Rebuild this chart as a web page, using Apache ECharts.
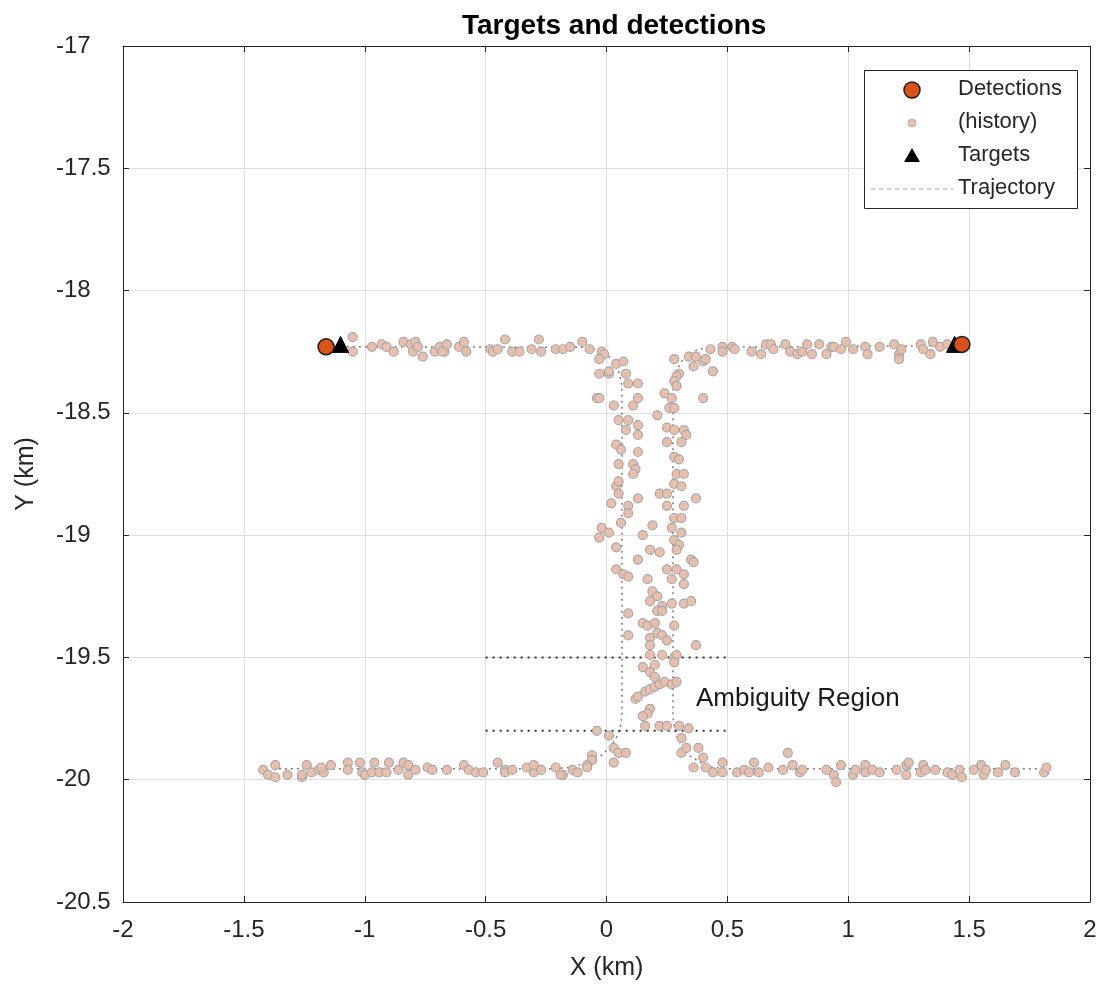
<!DOCTYPE html>
<html>
<head>
<meta charset="UTF-8">
<title>Targets and detections</title>
<style>
  html, body { margin: 0; padding: 0; background: #fff; }
  #chart { width: 1100px; height: 986px; }
</style>
</head>
<body>
<div id="chart"></div>
<script src="https://cdn.jsdelivr.net/npm/echarts@6/dist/echarts.min.js"></script>
<script type="text/javascript">
// axis ticks
var xTicks = [-2, -1.5, -1, -0.5, 0, 0.5, 1, 1.5, 2];
var yTicks = [-20.5, -20, -19.5, -19, -18.5, -18, -17.5, -17];

// current detections and targets (km)
var detections = [[-1.16, -18.23], [1.47, -18.22]];
var targets = [[-1.10, -18.22], [1.44, -18.22]];

// detection history (km)
var historyTop = [
  [-1.05, -18.19], [-1.05, -18.25], [-0.97, -18.23], [-0.93, -18.22], [-0.91, -18.23], [-0.88, -18.25],
  [-0.84, -18.21], [-0.81, -18.22], [-0.79, -18.21], [-0.80, -18.25], [-0.76, -18.27], [-0.78, -18.23],
  [-0.71, -18.25], [-0.69, -18.23], [-0.67, -18.25], [-0.66, -18.22], [-0.68, -18.25], [-0.61, -18.23],
  [-0.59, -18.21], [-0.58, -18.25], [-0.48, -18.24], [-0.47, -18.25], [-0.45, -18.24], [-0.42, -18.20],
  [-0.39, -18.25], [-0.36, -18.25], [-0.31, -18.24], [-0.28, -18.20], [-0.27, -18.25], [-0.21, -18.24],
  [-0.18, -18.24], [-0.15, -18.23], [-0.10, -18.21], [-0.07, -18.24],
  [0.48, -18.23], [0.48, -18.25], [0.52, -18.23], [0.53, -18.24], [0.60, -18.25], [0.64, -18.26],
  [0.66, -18.22], [0.68, -18.22], [0.69, -18.24], [0.74, -18.22], [0.76, -18.25], [0.79, -18.26],
  [0.81, -18.25], [0.83, -18.22], [0.85, -18.26], [0.88, -18.22], [0.91, -18.26], [0.93, -18.23],
  [0.94, -18.23], [0.97, -18.24], [0.99, -18.21], [1.02, -18.24], [1.07, -18.23], [1.08, -18.26],
  [1.13, -18.23], [1.19, -18.22], [1.21, -18.26], [1.21, -18.28], [1.22, -18.24], [1.30, -18.22],
  [1.31, -18.24], [1.34, -18.26], [1.35, -18.21], [1.38, -18.23], [1.41, -18.22]
];
var historyLeftColumn = [
  [-0.02, -18.25], [-0.01, -18.26], [-0.03, -18.28], [0.04, -18.30], [0.07, -18.29], [-0.03, -18.34],
  [0.01, -18.34], [0.08, -18.34], [0.01, -18.33], [0.09, -18.38], [0.13, -18.38], [-0.04, -18.44],
  [-0.03, -18.44], [0.03, -18.47], [0.11, -18.47], [0.13, -18.44], [0.05, -18.53], [0.09, -18.53],
  [0.13, -18.55], [0.13, -18.59], [0.08, -18.57], [0.04, -18.63], [0.06, -18.65], [0.13, -18.66],
  [0.05, -18.71], [0.11, -18.71], [0.12, -18.73], [0.11, -18.75], [0.04, -18.80], [0.05, -18.78],
  [0.05, -18.83], [0.13, -18.85], [0.02, -18.87], [0.09, -18.88], [0.09, -18.91], [0.06, -18.95],
  [-0.02, -18.97], [0.01, -18.99], [-0.03, -19.01]
];
var historyRightColumn = [
  [0.28, -18.28], [0.34, -18.27], [0.37, -18.27], [0.36, -18.31], [0.40, -18.29], [0.41, -18.28],
  [0.43, -18.24], [0.44, -18.33], [0.30, -18.34], [0.29, -18.35], [0.28, -18.37], [0.29, -18.39],
  [0.24, -18.42], [0.27, -18.44], [0.40, -18.44], [0.26, -18.48], [0.28, -18.48], [0.21, -18.51],
  [0.25, -18.56], [0.28, -18.57], [0.32, -18.57], [0.33, -18.59], [0.25, -18.62], [0.31, -18.62],
  [0.28, -18.68], [0.30, -18.69], [0.29, -18.75], [0.32, -18.75], [0.28, -18.79], [0.31, -18.80],
  [0.22, -18.83], [0.25, -18.83], [0.37, -18.85], [0.25, -18.88], [0.32, -18.88], [0.28, -18.93],
  [0.31, -18.93], [0.19, -18.96], [0.27, -18.97], [0.31, -18.99], [0.15, -19.00]
];
var historyCenter = [
  [0.28, -19.02], [0.30, -19.04], [0.29, -19.06], [0.04, -19.05], [0.18, -19.06], [0.22, -19.07],
  [0.13, -19.10], [0.35, -19.10], [0.36, -19.11], [0.04, -19.14], [0.07, -19.16], [0.09, -19.17],
  [0.25, -19.14], [0.29, -19.14], [0.32, -19.16], [0.17, -19.18], [0.27, -19.18], [0.32, -19.20],
  [0.19, -19.23], [0.21, -19.25], [0.18, -19.27], [0.23, -19.29], [0.21, -19.31], [0.23, -19.31],
  [0.27, -19.28], [0.32, -19.28], [0.35, -19.27], [0.09, -19.32], [0.15, -19.36], [0.17, -19.37],
  [0.20, -19.36], [0.28, -19.37], [0.09, -19.41], [0.21, -19.40], [0.18, -19.42], [0.23, -19.41],
  [0.25, -19.43], [0.18, -19.45], [0.37, -19.45], [0.18, -19.49], [0.23, -19.49], [0.28, -19.50],
  [0.29, -19.49], [0.28, -19.52], [0.15, -19.54], [0.18, -19.56], [0.20, -19.58], [0.20, -19.53],
  [0.12, -19.67], [0.13, -19.66], [0.16, -19.64], [0.18, -19.63], [0.20, -19.62], [0.22, -19.61],
  [0.24, -19.60], [0.27, -19.61], [0.29, -19.60], [0.18, -19.71], [0.17, -19.73], [0.15, -19.74],
  [0.16, -19.78], [0.22, -19.78], [0.25, -19.78], [0.30, -19.78], [0.34, -19.79]
];
var historyBottom = [
  [-0.04, -19.80], [0.01, -19.82], [0.31, -19.83], [0.03, -19.87], [0.05, -19.89], [0.08, -19.89],
  [0.03, -19.93], [-0.06, -19.90], [-0.06, -19.92], [-0.08, -19.94], [-0.08, -19.95], [-0.14, -19.96],
  [-0.12, -19.97], [-0.18, -19.98], [0.31, -19.89], [0.33, -19.87], [0.38, -19.87], [0.40, -19.91],
  [0.36, -19.95], [0.41, -19.95],
  [-1.42, -19.96], [-1.40, -19.98], [-1.37, -19.94], [-1.37, -19.99], [-1.32, -19.98], [-1.26, -19.99],
  [-1.26, -19.98], [-1.24, -19.94], [-1.22, -19.97], [-1.19, -19.96], [-1.17, -19.97], [-1.18, -19.95],
  [-1.14, -19.94], [-1.07, -19.93], [-1.07, -19.96], [-1.02, -19.93], [-1.01, -19.97], [-1.00, -19.98],
  [-0.97, -19.97], [-0.96, -19.93], [-0.94, -19.97], [-0.90, -19.93], [-0.91, -19.97], [-0.86, -19.96],
  [-0.84, -19.93], [-0.82, -19.94], [-0.82, -19.98], [-0.79, -19.96], [-0.74, -19.95], [-0.72, -19.96],
  [-0.66, -19.96], [-0.59, -19.94], [-0.57, -19.96], [-0.54, -19.97], [-0.51, -19.97], [-0.45, -19.93],
  [-0.42, -19.96], [-0.42, -19.97], [-0.39, -19.96], [-0.33, -19.95], [-0.30, -19.97], [-0.30, -19.94],
  [-0.27, -19.96], [-0.21, -19.95], [-0.19, -19.98],
  [0.44, -19.97], [0.48, -19.97], [0.48, -19.93], [0.54, -19.97], [0.57, -19.96], [0.59, -19.97],
  [0.61, -19.93], [0.63, -19.97], [0.67, -19.95], [0.73, -19.96], [0.75, -19.89], [0.77, -19.94],
  [0.80, -19.97], [0.81, -19.96], [0.91, -19.96], [0.94, -19.98], [0.95, -20.01], [0.97, -19.94],
  [1.02, -19.98], [1.03, -19.96], [1.07, -19.94], [1.07, -19.97], [1.10, -19.96], [1.13, -19.97],
  [1.20, -19.96], [1.24, -19.94], [1.24, -19.98], [1.25, -19.93], [1.30, -19.97], [1.31, -19.94],
  [1.32, -19.96], [1.36, -19.96], [1.41, -19.97], [1.43, -19.98], [1.46, -19.96], [1.47, -19.99],
  [1.52, -19.96], [1.55, -19.94], [1.56, -19.98], [1.57, -19.96], [1.62, -19.97], [1.65, -19.94],
  [1.69, -19.97], [1.81, -19.97], [1.82, -19.95]
];

// true trajectories (km)
var trajectory1 = [
  [-1.38, -19.955], [-0.22, -19.955], [-0.15, -19.95], [-0.08, -19.93], [-0.02, -19.90], [0.02, -19.86],
  [0.045, -19.82], [0.058, -19.78], [0.064, -19.74], [0.064, -18.42], [0.062, -18.38], [0.05, -18.33],
  [0.03, -18.29], [0.0, -18.26], [-0.04, -18.24], [-0.10, -18.232], [-1.10, -18.23]
];
var trajectory2 = [
  [1.78, -19.955], [0.50, -19.955], [0.44, -19.95], [0.39, -19.93], [0.34, -19.90], [0.31, -19.86],
  [0.29, -19.82], [0.28, -19.78], [0.275, -19.74], [0.275, -18.42], [0.278, -18.38], [0.29, -18.33],
  [0.31, -18.29], [0.34, -18.26], [0.38, -18.24], [0.44, -18.232], [1.44, -18.225]
];

// ambiguity region bounds
var ambigTop = [[-0.5, -19.5], [0.5, -19.5]];
var ambigBottom = [[-0.5, -19.8], [0.5, -19.8]];
var ambigLabel = [[0.37, -19.67]];

var historyAll = historyTop.concat(historyLeftColumn, historyRightColumn, historyCenter, historyBottom);

var font = 'Liberation Sans, Arial, Helvetica, sans-serif';
var ink = '#262626';
var orange = '#d95319';

var my_echarts = echarts.init(document.getElementById('chart'));

// legend box (MATLAB style), drawn as graphic
var legendTexts = ['Detections', '(history)', 'Targets', 'Trajectory'];
var legendRowsY = [90, 123, 156, 189];
var legendGraphic = [{
  type: 'rect', left: 864, top: 70, z: 10,
  shape: { width: 213, height: 138 },
  style: { fill: '#fff', stroke: ink, lineWidth: 1 }
}, {
  type: 'circle', z: 11, shape: { cx: 912, cy: legendRowsY[0], r: 8 },
  style: { fill: orange, stroke: '#1a1a1a', lineWidth: 1.5 }
}, {
  type: 'circle', z: 11, shape: { cx: 912, cy: legendRowsY[1], r: 4 },
  style: { fill: '#e8bfad', stroke: '#b0b0b0', lineWidth: 1 }
}, {
  type: 'polygon', z: 11,
  shape: { points: [[912, legendRowsY[2] - 8], [920, legendRowsY[2] + 6], [904, legendRowsY[2] + 6]] },
  style: { fill: '#000' }
}, {
  type: 'line', z: 11,
  shape: { x1: 871, y1: legendRowsY[3], x2: 953, y2: legendRowsY[3] },
  style: { stroke: '#9a9a9a', lineWidth: 1.2, lineDash: [4, 4] }
}];
legendTexts.forEach(function (t, i) {
  legendGraphic.push({
    type: 'text', z: 11, left: 958, top: legendRowsY[i] - 12,
    style: { text: t, fill: ink, font: '22px ' + font }
  });
});

var option = {
  backgroundColor: '#fff',
  animation: false,
  title: {
    text: 'Targets and detections',
    left: 457,
    top: 7,
    textStyle: { fontFamily: font, fontSize: 28, fontWeight: 'bold', color: '#000' }
  },
  grid: { left: 123, right: 10, top: 46, bottom: 83, show: false },
  graphic: legendGraphic,
  xAxis: [{
    type: 'value',
    min: -2, max: 2, interval: 0.5,
    name: 'X (km)',
    nameLocation: 'middle',
    nameGap: 54,
    nameTextStyle: { fontFamily: font, fontSize: 25, color: ink },
    axisLine: { show: true, onZero: false, lineStyle: { color: ink, width: 1 } },
    axisTick: { show: true, inside: true, length: 6, lineStyle: { color: ink } },
    axisLabel: {
      fontFamily: font, fontSize: 24, color: ink, margin: 16,
      formatter: function (v) { return xTicks.indexOf(v) >= 0 ? String(v) : ''; }
    },
    splitLine: { show: true, lineStyle: { color: '#dfdfdf', width: 1 } }
  }, {
    type: 'value',
    position: 'top',
    min: -2, max: 2, interval: 0.5,
    axisLine: { show: true, onZero: false, lineStyle: { color: ink, width: 1 } },
    axisTick: { show: true, inside: true, length: 6, lineStyle: { color: ink } },
    axisLabel: { show: false },
    splitLine: { show: false }
  }],
  yAxis: [{
    type: 'value',
    min: -20.5, max: -17, interval: 0.5,
    name: 'Y (km)',
    nameLocation: 'middle',
    nameGap: 84,
    nameRotate: 90,
    nameTextStyle: { fontFamily: font, fontSize: 25, color: ink },
    axisLine: { show: true, onZero: false, lineStyle: { color: ink, width: 1 } },
    axisTick: { show: true, inside: true, length: 6, lineStyle: { color: ink } },
    axisLabel: {
      fontFamily: font, fontSize: 24, color: ink, margin: 67, align: 'left',
      formatter: function (v) { return yTicks.indexOf(v) >= 0 ? String(v) : ''; }
    },
    splitLine: { show: true, lineStyle: { color: '#dfdfdf', width: 1 } }
  }, {
    type: 'value',
    position: 'right',
    min: -20.5, max: -17, interval: 0.5,
    axisLine: { show: true, onZero: false, lineStyle: { color: ink, width: 1 } },
    axisTick: { show: true, inside: true, length: 6, lineStyle: { color: ink } },
    axisLabel: { show: false },
    splitLine: { show: false }
  }],
  series: [{
    name: 'Trajectory',
    type: 'line',
    data: trajectory1,
    symbol: 'none',
    silent: true,
    z: 1,
    lineStyle: { color: '#7a7a7a', width: 1.5, type: [2, 4] }
  }, {
    name: 'Trajectory',
    type: 'line',
    data: trajectory2,
    symbol: 'none',
    silent: true,
    z: 1,
    lineStyle: { color: '#7a7a7a', width: 1.5, type: [2, 4] }
  }, {
    name: 'ambiguity',
    type: 'line',
    data: ambigTop,
    symbol: 'none',
    silent: true,
    z: 1,
    lineStyle: { color: '#333', width: 2, type: [2, 5] }
  }, {
    name: 'ambiguity',
    type: 'line',
    data: ambigBottom,
    symbol: 'none',
    silent: true,
    z: 1,
    lineStyle: { color: '#333', width: 2, type: [2, 5] }
  }, {
    name: 'ambiguityLabel',
    type: 'scatter',
    data: ambigLabel,
    symbolSize: 0,
    silent: true,
    itemStyle: { opacity: 1 },
    label: {
      show: true, position: 'right', distance: 0,
      formatter: 'Ambiguity Region',
      fontFamily: font, fontSize: 26, color: '#1a1a1a'
    }
  }, {
    name: '(history)',
    type: 'scatter',
    data: historyAll,
    symbol: 'circle',
    symbolSize: 9,
    silent: true,
    z: 2,
    itemStyle: { color: '#e8bfad', borderColor: '#a8a8a8', borderWidth: 1.2, opacity: 1 }
  }, {
    name: 'Targets',
    type: 'scatter',
    data: targets,
    symbol: 'triangle',
    symbolSize: 16,
    silent: true,
    z: 3,
    itemStyle: { color: '#000', borderColor: '#000', borderWidth: 1, opacity: 1 }
  }, {
    name: 'Detections',
    type: 'scatter',
    data: detections,
    symbol: 'circle',
    symbolSize: 16,
    silent: true,
    z: 4,
    itemStyle: { color: orange, borderColor: '#1a1a1a', borderWidth: 1.5, opacity: 1 }
  }]
};
my_echarts.setOption(option);
</script>
</body>
</html>
